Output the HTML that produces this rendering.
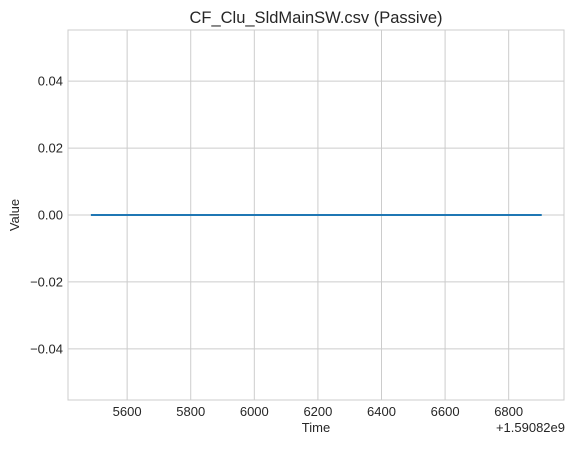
<!DOCTYPE html>
<html><head><meta charset="utf-8"><style>
html,body{margin:0;padding:0;background:#fff;}
svg text{font-family:"Liberation Sans","DejaVu Sans",sans-serif;fill:#262626;}
</style></head><body>
<svg id="chart" width="573" height="444" xmlns="http://www.w3.org/2000/svg">
<rect x="0" y="0" width="573" height="444" fill="#fff"/>
<g id="grid"></g>
<g id="ticks"></g>
<rect x="68" y="30" width="496" height="370" fill="none" stroke="#cccccc" stroke-width="1"/>
<g id="series"></g>
<text x="316" y="23" font-size="16.5" text-anchor="middle">CF_Clu_SldMainSW.csv (Passive)</text>
<text x="316" y="432" font-size="13" text-anchor="middle">Time</text>
<text x="19" y="215" font-size="13" text-anchor="middle" transform="rotate(-90 19 215)">Value</text>
<text x="565" y="432" font-size="13" text-anchor="end">+1.59082e9</text>
</svg>
<script>
const xTicks=[5600,5800,6000,6200,6400,6600,6800];
const yTicks=[-0.04,-0.02,0.00,0.02,0.04];
const yTickLabels=["−0.04","−0.02","0.00","0.02","0.04"];
const times=[5486,6904];
const values=[0,0];
const L=68,R=564,T=30,B=400;
const x0=5414,x1=6974,y0=-0.0553,y1=0.0553;
const sx=v=>L+(v-x0)/(x1-x0)*(R-L);
const sy=v=>B-(v-y0)/(y1-y0)*(B-T);
const NS="http://www.w3.org/2000/svg";
const grid=document.getElementById('grid'),ticks=document.getElementById('ticks'),series=document.getElementById('series');
xTicks.forEach(t=>{
 const l=document.createElementNS(NS,'line');
 
 
 l.setAttribute('x1',sx(t));l.setAttribute('x2',sx(t));l.setAttribute('y1',T);l.setAttribute('y2',B);
 l.setAttribute('stroke','#cccccc');grid.appendChild(l);
 const tx=document.createElementNS(NS,'text');
 
 
 tx.setAttribute('x',sx(t));tx.setAttribute('y',B+16);tx.setAttribute('font-size','13');tx.setAttribute('text-anchor','middle');
 tx.textContent=t;ticks.appendChild(tx);
});
yTicks.forEach((t,i)=>{
 const l=document.createElementNS(NS,'line');
 
 
 l.setAttribute('x1',L);l.setAttribute('x2',R);l.setAttribute('y1',sy(t));l.setAttribute('y2',sy(t));
 l.setAttribute('stroke','#cccccc');grid.appendChild(l);
 const tx=document.createElementNS(NS,'text');
 
 
 tx.setAttribute('x',L-5);tx.setAttribute('y',sy(t)+4.5);tx.setAttribute('font-size','13');tx.setAttribute('text-anchor','end');
 tx.textContent=yTickLabels[i];ticks.appendChild(tx);
});
const p=document.createElementNS(NS,'polyline');


p.setAttribute('points',times.map((t,i)=>sx(t)+','+sy(values[i])).join(' '));
p.setAttribute('fill','none');p.setAttribute('stroke','#1f77b4');p.setAttribute('stroke-width','2');
series.appendChild(p);
</script>
</body></html>
